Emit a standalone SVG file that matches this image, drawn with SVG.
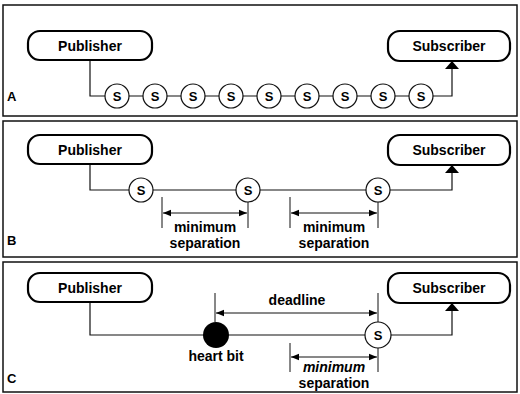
<svg xmlns="http://www.w3.org/2000/svg" width="520" height="394" viewBox="0 0 520 394">
<defs>
<style>
.panel{fill:#fff;stroke:#111;stroke-width:1.5}
.box{fill:#fff;stroke:#000;stroke-width:2.2}
.ln{fill:none;stroke:#111;stroke-width:1.2}
.tk{fill:none;stroke:#111;stroke-width:1}
.s{fill:#fff;stroke:#111;stroke-width:1.2}
.t{font-family:"Liberation Sans",Arial,sans-serif;font-weight:bold;font-size:14px;fill:#000;text-anchor:middle}
.st{font-family:"Liberation Sans",Arial,sans-serif;font-weight:bold;font-size:13px;fill:#000;text-anchor:middle}
.lb{font-family:"Liberation Sans",Arial,sans-serif;font-weight:bold;font-size:13px;fill:#000}
</style>
<marker id="ah" viewBox="0 0 10 10" refX="10" refY="5" markerWidth="8" markerHeight="8" markerUnits="userSpaceOnUse" orient="auto"><path d="M0,1 L10,5 L0,9 Z" fill="#000"/></marker>
<marker id="bh" viewBox="0 0 10 10" refX="10" refY="5" markerWidth="8" markerHeight="14" markerUnits="userSpaceOnUse" orient="auto" preserveAspectRatio="none"><path d="M0,0 L10,5 L0,10 Z" fill="#000"/></marker>
</defs>
<rect width="520" height="394" fill="#fff"/>
<g id="panels">
<rect class="panel" x="3" y="5" width="514" height="111"/>
<rect class="panel" x="3" y="121" width="514" height="136"/>
<rect class="panel" x="3" y="262" width="514" height="130"/>
<text class="lb" x="7" y="101">A</text>
<text class="lb" x="7" y="245">B</text>
<text class="lb" x="7" y="383">C</text>
</g>
<g id="connectors">
<path class="ln" d="M90,60 V96 H452 V61" marker-end="url(#bh)"/>
<path class="ln" d="M90,164 V190 H452 V165" marker-end="url(#bh)"/>
<path class="ln" d="M90,302 V335 H452 V303" marker-end="url(#bh)"/>
<path class="tk" d="M162,197 V228 M248,202 V228 M290,197 V228 M378,202 V228"/>
<path class="tk" d="M205,213 H163" marker-end="url(#ah)"/>
<path class="tk" d="M205,213 H247" marker-end="url(#ah)"/>
<path class="tk" d="M334,213 H291" marker-end="url(#ah)"/>
<path class="tk" d="M334,213 H377" marker-end="url(#ah)"/>
<path class="tk" d="M215,293 V322 M378,293 V322 M290,343 V372 M378,348 V372"/>
<path class="tk" d="M297,313 H216" marker-end="url(#ah)"/>
<path class="tk" d="M297,313 H377" marker-end="url(#ah)"/>
<path class="tk" d="M334,357 H291" marker-end="url(#ah)"/>
<path class="tk" d="M334,357 H377" marker-end="url(#ah)"/>
</g>
<g id="publisherA"><rect class="box" x="28" y="31" width="124" height="29" rx="12"/><text class="t" x="90" y="51">Publisher</text></g>
<g id="subscriberA"><rect class="box" x="388" y="31" width="122" height="30" rx="12"/><text class="t" x="449" y="51">Subscriber</text></g>
<g id="samplesA">
<g><circle class="s" cx="117" cy="96" r="12"/><text class="st" x="117" y="101">S</text></g>
<g><circle class="s" cx="155" cy="96" r="12"/><text class="st" x="155" y="101">S</text></g>
<g><circle class="s" cx="193" cy="96" r="12"/><text class="st" x="193" y="101">S</text></g>
<g><circle class="s" cx="231" cy="96" r="12"/><text class="st" x="231" y="101">S</text></g>
<g><circle class="s" cx="269" cy="96" r="12"/><text class="st" x="269" y="101">S</text></g>
<g><circle class="s" cx="307" cy="96" r="12"/><text class="st" x="307" y="101">S</text></g>
<g><circle class="s" cx="345" cy="96" r="12"/><text class="st" x="345" y="101">S</text></g>
<g><circle class="s" cx="383" cy="96" r="12"/><text class="st" x="383" y="101">S</text></g>
<g><circle class="s" cx="421" cy="96" r="12"/><text class="st" x="421" y="101">S</text></g>
</g>
<g id="publisherB"><rect class="box" x="28" y="135" width="124" height="29" rx="12"/><text class="t" x="90" y="155">Publisher</text></g>
<g id="subscriberB"><rect class="box" x="388" y="135" width="122" height="30" rx="12"/><text class="t" x="449" y="155">Subscriber</text></g>
<g id="samplesB">
<g><circle class="s" cx="141" cy="190" r="12"/><text class="st" x="141" y="195">S</text></g>
<g><circle class="s" cx="248" cy="190" r="12"/><text class="st" x="248" y="195">S</text></g>
<g><circle class="s" cx="378" cy="190" r="12"/><text class="st" x="378" y="195">S</text></g>
</g>
<g id="labelsB">
<text class="t" x="205" y="232">minimum</text>
<text class="t" x="205" y="248">separation</text>
<text class="t" x="334" y="232">minimum</text>
<text class="t" x="334" y="248">separation</text>
</g>
<g id="publisherC"><rect class="box" x="28" y="273" width="124" height="29" rx="12"/><text class="t" x="90" y="293">Publisher</text></g>
<g id="subscriberC"><rect class="box" x="388" y="273" width="122" height="30" rx="12"/><text class="t" x="449" y="293">Subscriber</text></g>
<g id="heartbit"><circle cx="216" cy="335" r="13" fill="#000"/><text class="t" x="216" y="361">heart bit</text></g>
<g id="sampleC"><circle class="s" cx="378" cy="335" r="13"/><text class="st" x="378" y="340">S</text></g>
<g id="labelsC">
<text class="t" x="297" y="305">deadline</text>
<text class="t" x="334" y="372" font-style="italic">minimum</text>
<text class="t" x="334" y="388">separation</text>
</g>
</svg>
